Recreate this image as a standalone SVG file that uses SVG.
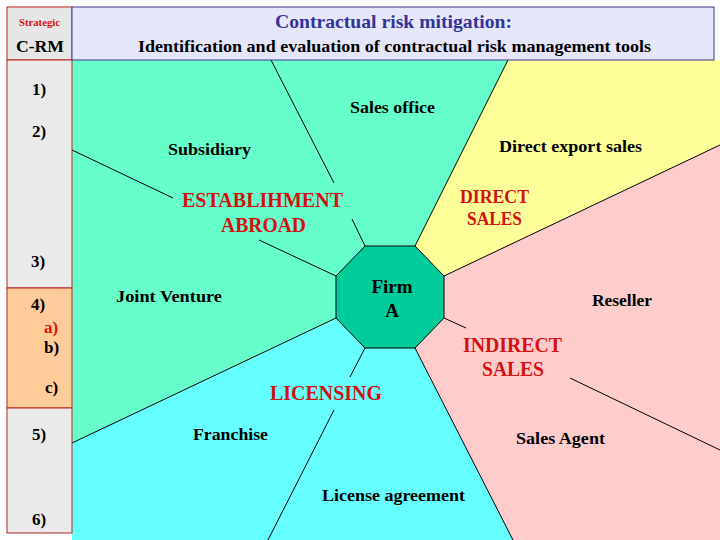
<svg xmlns="http://www.w3.org/2000/svg" width="720" height="540" viewBox="0 0 720 540" font-family="'Liberation Serif', 'Times New Roman', 'DejaVu Serif', serif" font-weight="bold">
<style>
.red{fill:#d41111}
.lbl{font-size:17px}
.big{font-size:20px}
.num{font-size:17px}
.ln{stroke:#000;stroke-width:1;fill:none}
</style>
<rect width="720" height="540" fill="#fff"/>
<g id="regions">
<g id="establishment-abroad">
<polygon points="72,60 508,60 415,246 365,246 336,276 336,318 72,443" fill="#66ffcc"/>
<text class="lbl" x="350" y="113" textLength="85" lengthAdjust="spacingAndGlyphs">Sales office</text>
<text class="lbl" x="168" y="155" textLength="83" lengthAdjust="spacingAndGlyphs">Subsidiary</text>
<text class="lbl" x="116" y="302" textLength="106" lengthAdjust="spacingAndGlyphs">Joint Venture</text>
<text class="big red" x="182" y="207" textLength="161" lengthAdjust="spacingAndGlyphs">ESTABLIHMENT</text>
<text class="big red" x="221" y="232" textLength="85" lengthAdjust="spacingAndGlyphs">ABROAD</text>
</g>
<g id="direct-sales">
<polygon points="508,60 720,60 720,145 444,276 415,246" fill="#ffff99"/>
<text class="lbl" x="499" y="152" textLength="143" lengthAdjust="spacingAndGlyphs">Direct export sales</text>
<text class="red" font-size="18" x="460" y="203" textLength="69" lengthAdjust="spacingAndGlyphs">DIRECT</text>
<text class="red" font-size="18" x="467" y="225" textLength="55" lengthAdjust="spacingAndGlyphs">SALES</text>
</g>
<g id="indirect-sales">
<polygon points="720,145 720,540 513,540 415,348 444,318 444,276" fill="#ffcccc"/>
<text class="lbl" x="592" y="306" textLength="60" lengthAdjust="spacingAndGlyphs">Reseller</text>
<text class="lbl" x="516" y="444" textLength="89" lengthAdjust="spacingAndGlyphs">Sales Agent</text>
<text class="big red" x="463" y="352" textLength="99" lengthAdjust="spacingAndGlyphs">INDIRECT</text>
<text class="big red" x="482" y="376" textLength="62" lengthAdjust="spacingAndGlyphs">SALES</text>
</g>
<g id="licensing">
<polygon points="72,443 336,318 365,348 415,348 513,540 72,540" fill="#66ffff"/>
<text class="lbl" x="193" y="440" textLength="75" lengthAdjust="spacingAndGlyphs">Franchise</text>
<text class="lbl" x="322" y="501" textLength="143" lengthAdjust="spacingAndGlyphs">License agreement</text>
<text class="big red" x="270" y="400" textLength="112" lengthAdjust="spacingAndGlyphs">LICENSING</text>
</g>
</g>
<g id="connectors">
<line class="ln" x1="415" y1="246" x2="508" y2="60"/>
<line class="ln" x1="444" y1="276" x2="720" y2="145"/>
<line class="ln" x1="415" y1="348" x2="513" y2="540"/>
<line class="ln" x1="336" y1="318" x2="72" y2="443"/>
<line class="ln" x1="271" y1="60" x2="334" y2="183"/>
<line class="ln" x1="352" y1="219" x2="365" y2="246"/>
<line class="ln" x1="72" y1="150" x2="173" y2="198"/>
<line class="ln" x1="259" y1="240" x2="336" y2="276"/>
<line class="ln" x1="365" y1="348" x2="350" y2="377"/>
<line class="ln" x1="334" y1="410" x2="268" y2="540"/>
<line class="ln" x1="444" y1="318" x2="466" y2="328"/>
<line class="ln" x1="570" y1="378" x2="720" y2="450"/>
</g>
<g id="firm-a">
<polygon points="365,246 415,246 444,276 444,318 415,348 365,348 336,318 336,276" fill="#00cc99" stroke="#000" stroke-width="1"/>
<text font-size="19" x="392" y="293" text-anchor="middle">Firm</text>
<text font-size="19" x="392" y="317" text-anchor="middle">A</text>
</g>
<g id="header">
<rect x="7" y="7" width="65" height="53" fill="#e6e6e6" stroke="#cc2222" stroke-width="1"/>
<text class="red" font-size="10" x="19" y="26" textLength="41" lengthAdjust="spacingAndGlyphs">Strategic</text>
<text font-size="16" x="16" y="52" textLength="48" lengthAdjust="spacingAndGlyphs">C-RM</text>
</g>
<g id="title">
<rect x="72" y="7" width="642" height="53" fill="#e6e6fa" stroke="#3a3a8c" stroke-width="1"/>
<text font-size="19" x="275" y="28" textLength="237" lengthAdjust="spacingAndGlyphs" fill="#333399">Contractual risk mitigation:</text>
<text font-size="16" x="138" y="52" textLength="513" lengthAdjust="spacingAndGlyphs">Identification and evaluation of contractual risk management tools</text>
</g>
<g id="sidebar">
<rect x="7" y="60" width="65" height="228" fill="#eaeaea" stroke="#b52222" stroke-width="1"/>
<rect x="7" y="288" width="65" height="120" fill="#ffcc99" stroke="#b52222" stroke-width="1"/>
<rect x="7" y="408" width="65" height="125" fill="#eaeaea" stroke="#b52222" stroke-width="1"/>
<text class="num" x="32" y="95">1)</text>
<text class="num" x="32" y="137">2)</text>
<text class="num" x="31" y="267">3)</text>
<text class="num" x="31" y="310">4)</text>
<text class="num red" x="44" y="333">a)</text>
<text class="num" x="44" y="353">b)</text>
<text class="num" x="45" y="393">c)</text>
<text class="num" x="32" y="440">5)</text>
<text class="num" x="32" y="525">6)</text>
</g>
</svg>
